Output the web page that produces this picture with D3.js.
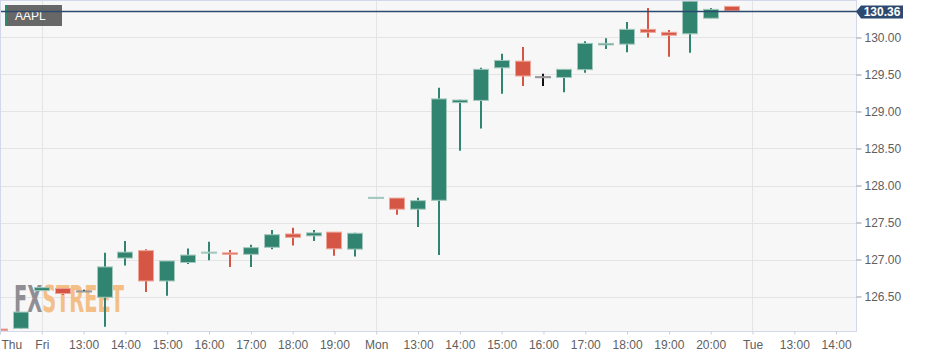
<!DOCTYPE html>
<html>
<head>
<meta charset="utf-8">
<script src="https://cdn.jsdelivr.net/npm/d3@7"></script>
<style>
  body { margin: 0; background: #fff; }
  text { font-family: Arial, "Liberation Sans", sans-serif; }
</style>
</head>
<body>
<div id="chart"></div>
<script>
// half-hour slots, 0 = last Thu bar
var slots  = [0, 1, 2, 3, 4, 5, 6, 7, 8, 9, 10, 11, 12, 13, 14, 15, 16, 17,
              18, 19, 20, 21, 22, 23, 24, 25, 26, 27, 28, 29, 30, 31, 32, 33, 34, 35];
var opens  = [126.06, 126.07, 126.58, 126.61, 126.575, 126.49, 127.02, 127.12, 126.71, 126.96, 127.09, 127.09, 127.07, 127.165, 127.345, 127.32, 127.37, 127.14,
              127.83, 127.83, 127.68, 127.80, 129.12, 129.15, 129.59, 129.68, 129.47, 129.46, 129.565, 129.90, 129.91, 130.11, 130.07, 130.05, 130.26, 130.42];
var highs  = [126.06, 126.29, 126.62, 126.61, 126.59, 127.09, 127.25, 127.14, 126.98, 127.15, 127.24, 127.13, 127.20, 127.40, 127.43, 127.40, 127.37, 127.36,
              127.84, 127.83, 127.835, 129.32, 129.16, 129.59, 129.78, 129.87, 129.51, 129.575, 129.95, 129.99, 130.21, 130.40, 130.10, 130.50, 130.40, 130.42];
var lows   = [126.04, 126.06, 126.58, 126.52, 126.56, 126.09, 126.92, 126.56, 126.51, 126.94, 126.99, 126.90, 126.90, 127.14, 127.19, 127.25, 127.05, 127.04,
              127.83, 127.605, 127.44, 127.06, 128.47, 128.77, 129.24, 129.345, 129.345, 129.26, 129.525, 129.845, 129.80, 130.00, 129.74, 129.795, 130.26, 130.36];
var closes = [126.04, 126.29, 126.62, 126.54, 126.575, 126.90, 127.10, 126.71, 126.98, 127.06, 127.10, 127.07, 127.16, 127.335, 127.30, 127.36, 127.145, 127.355,
              127.84, 127.68, 127.795, 129.17, 129.155, 129.57, 129.69, 129.48, 129.47, 129.57, 129.92, 129.92, 130.11, 130.07, 130.03, 130.49, 130.38, 130.36];

var tickSlots  = [0, 2, 4, 6, 8, 10, 12, 14, 16, 18, 20, 22, 24, 26, 28, 30, 32, 34, 36, 38, 40];
var tickLabels = ["Thu", "Fri", "13:00", "14:00", "15:00", "16:00", "17:00", "18:00", "19:00",
                  "Mon", "13:00", "14:00", "15:00", "16:00", "17:00", "18:00", "19:00", "20:00",
                  "Tue", "13:00", "14:00"];
var daySlots   = [2, 18, 36];
var priceTicks = [126.5, 127, 127.5, 128, 128.5, 129, 129.5, 130];
var lastPrice  = 130.36;
var symbol     = "AAPL";

var width = 927, height = 357;
var plotL = 1, plotR = 856, plotT = 1, plotB = 331;

var svg = d3.select("#chart").append("svg")
    .attr("width", width).attr("height", height);

var x = d3.scaleLinear().domain([0, 41]).range([0, 857]);
var y = d3.scaleLinear().domain([126.034, 130.493]).range([plotB, plotT]);

var bars = slots.map(function(s, i) {
  return { s: s, o: opens[i], h: highs[i], l: lows[i], c: closes[i] };
});

// plot background
svg.append("rect")
    .attr("x", plotL).attr("y", plotT)
    .attr("width", plotR - plotL).attr("height", plotB - plotT)
    .attr("fill", "#f7f7f7");

svg.append("clipPath").attr("id", "clip")
  .append("rect")
    .attr("x", plotL).attr("y", plotT)
    .attr("width", plotR - plotL).attr("height", plotB - plotT);

// grid
svg.append("g").selectAll("line.h")
  .data(priceTicks).enter().append("line")
    .attr("x1", plotL).attr("x2", plotR)
    .attr("y1", function(d) { return Math.round(y(d)) + 0.5; })
    .attr("y2", function(d) { return Math.round(y(d)) + 0.5; })
    .attr("stroke", "#e4e4e4").attr("stroke-width", 1);

svg.append("g").selectAll("line.v")
  .data(daySlots).enter().append("line")
    .attr("x1", function(d) { return Math.round(x(d)) + 0.5; })
    .attr("x2", function(d) { return Math.round(x(d)) + 0.5; })
    .attr("y1", plotT).attr("y2", plotB)
    .attr("stroke", "#e4e4e4").attr("stroke-width", 1);

// watermark
var wm = svg.append("text")
    .attr("x", 14).attr("y", 312)
    .attr("font-size", 37).attr("font-weight", "bold")
    .attr("textLength", 110).attr("lengthAdjust", "spacingAndGlyphs")
    .style("font-family", "'Liberation Sans Narrow', 'DejaVu Sans Condensed', sans-serif");
wm.append("tspan").attr("fill", "#8e8e94").text("FX");
wm.append("tspan").attr("fill", "#f3bf87").text("STREET");

// candles
var green = "#31846f", greenEdge = "#a3c9be";
var red = "#d55644", redEdge = "#eea699";
function col(d) { return d.c > d.o ? green : (d.c < d.o ? red : "#111"); }

var cg = svg.append("g").attr("clip-path", "url(#clip)");
var candle = cg.selectAll("g.candle")
  .data(bars).enter().append("g")
    .attr("class", "candle");

candle.append("line")
    .attr("x1", function(d) { return Math.round(x(d.s)); })
    .attr("x2", function(d) { return Math.round(x(d.s)); })
    .attr("y1", function(d) { return y(d.h); })
    .attr("y2", function(d) { return y(d.l); })
    .attr("stroke", col).attr("stroke-width", 2);

candle.append("rect")
    .attr("x", function(d) { return Math.round(x(d.s)) - 7.5; })
    .attr("width", 15)
    .attr("y", function(d) { return y(Math.max(d.o, d.c)); })
    .attr("height", function(d) { return Math.max(1, y(Math.min(d.o, d.c)) - y(Math.max(d.o, d.c))); })
    .attr("fill", col)
    .attr("stroke", function(d) { return d.c > d.o ? greenEdge : (d.c < d.o ? redEdge : "#999"); })
    .attr("stroke-width", 1);

// frame
svg.append("rect")
    .attr("x", plotL - 0.5).attr("y", plotT - 0.5)
    .attr("width", plotR - plotL + 1).attr("height", plotB - plotT + 1)
    .attr("fill", "none").attr("stroke", "#d3d9ea").attr("stroke-width", 1);

// axes
var xAxis = d3.axisBottom(x)
    .tickValues(tickSlots)
    .tickSize(3).tickPadding(6)
    .tickFormat(function(d) { return tickLabels[tickSlots.indexOf(d)]; });
var gx = svg.append("g")
    .attr("transform", "translate(0," + (plotB + 0.5) + ")")
    .call(xAxis);
gx.select(".domain").remove();
gx.selectAll(".tick line").attr("stroke", "#c8cedc");
gx.selectAll(".tick text")
    .attr("fill", "#606060").attr("font-size", 12)
    .style("font-family", "Arial, 'Liberation Sans', sans-serif");
gx.selectAll(".tick").filter(function(d) { return d === 0; })
  .select("text").attr("text-anchor", "start").attr("x", 1);

var yAxis = d3.axisRight(y)
    .tickValues(priceTicks)
    .tickSize(5).tickPadding(3)
    .tickFormat(d3.format(".2f"));
var gy = svg.append("g")
    .attr("transform", "translate(" + (plotR + 0.5) + ",0)")
    .call(yAxis);
gy.select(".domain").remove();
gy.selectAll(".tick line").attr("stroke", "#999");
gy.selectAll(".tick text")
    .attr("fill", "#606060").attr("font-size", 12)
    .style("font-family", "Arial, 'Liberation Sans', sans-serif");

// symbol label
svg.append("rect")
    .attr("x", 5).attr("y", 5).attr("width", 57).attr("height", 21)
    .attr("fill", "#4d4d4d").attr("opacity", 0.85);
svg.append("rect")
    .attr("x", 5).attr("y", 5).attr("width", 2).attr("height", 21)
    .attr("fill", "#2f8a71");
svg.append("text")
    .attr("x", 15).attr("y", 20)
    .attr("fill", "#fff").attr("font-size", 12)
    .text(symbol);

// last price line + label
var py = Math.round(y(lastPrice)) + 0.5;
svg.append("line")
    .attr("x1", plotL).attr("x2", plotR + 3)
    .attr("y1", py).attr("y2", py)
    .attr("stroke", "#2c4a70").attr("stroke-width", 1.3);
svg.append("path")
    .attr("d", "M856," + py + "L861," + (py - 6) + "L903," + (py - 6) +
               "L903," + (py + 7) + "L861," + (py + 7) + "Z")
    .attr("fill", "#2c4a70");
svg.append("text")
    .attr("x", 882).attr("y", py + 4.5)
    .attr("text-anchor", "middle")
    .attr("fill", "#fff").attr("font-size", 12).attr("font-weight", "bold")
    .text(d3.format(".2f")(lastPrice));
</script>
</body>
</html>
